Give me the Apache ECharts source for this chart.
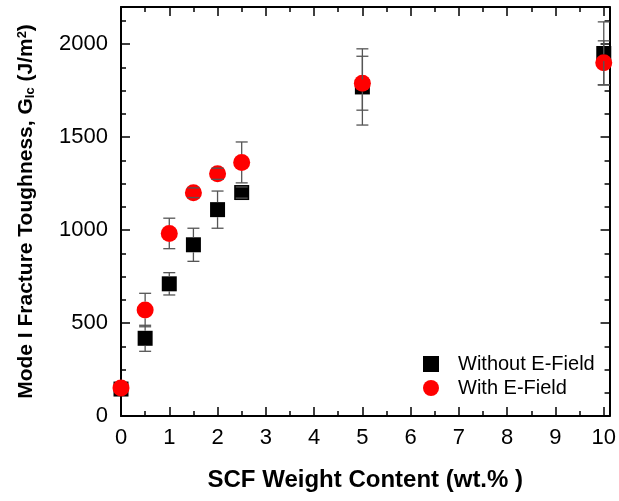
<!DOCTYPE html>
<html>
<head>
<meta charset="utf-8">
<script src="https://cdn.jsdelivr.net/npm/echarts@6/dist/echarts.min.js"></script>
<style>
  html, body { margin: 0; padding: 0; background: #fff; }
  #chart { width: 619px; height: 501px; }
</style>
</head>
<body>
<div id="chart"></div>
<script>
// SCF content (wt.%)
var xValues = [0, 0.5, 1, 1.5, 2, 2.5, 5, 10];
// G_Ic values
var withoutField = [145, 418, 711, 921, 1110, 1202, 1770, 1950];
var withoutFieldErr = [0, 70, 60, 89, 100, 30, 205, 170];
var withField = [150, 570, 982, 1201, 1303, 1364, 1790, 1900];
var withFieldErr = [0, 90, 82, 26, 30, 110, 145, 118];
var xTicks = [0, 1, 2, 3, 4, 5, 6, 7, 8, 9, 10];
var yTicks = [0, 500, 1000, 1500, 2000];

var FONT = '"Liberation Sans", Arial, sans-serif';

function pairs(xs, ys) {
  return xs.map(function (x, i) { return [x, ys[i]]; });
}

// vertical error bars, drawn from the symbol edge outward, caps always drawn
function errorBars(name, ys, errs, half) {
  return {
    type: 'custom',
    name: name,
    silent: true,
    z: 5,
    clip: false,
    data: xValues.map(function (x, i) { return [x, ys[i], errs[i]]; }),
    encode: { x: 0, y: 1 },
    renderItem: function (params, api) {
      var e = api.value(2);
      if (!e) return;
      var x = api.value(0), y = api.value(1);
      var c = api.coord([x, y]);
      var hi = api.coord([x, y + e]);
      var lo = api.coord([x, y - e]);
      var w = 6;
      var style = { stroke: '#555', lineWidth: 1.3 };
      var kids = [
        { type: 'line', shape: { x1: c[0] - w, y1: hi[1], x2: c[0] + w, y2: hi[1] }, style: style },
        { type: 'line', shape: { x1: c[0] - w, y1: lo[1], x2: c[0] + w, y2: lo[1] }, style: style }
      ];
      if (hi[1] < c[1] - half) {
        kids.push({ type: 'line', shape: { x1: c[0], y1: hi[1], x2: c[0], y2: c[1] - half }, style: style });
      }
      if (lo[1] > c[1] + half) {
        kids.push({ type: 'line', shape: { x1: c[0], y1: c[1] + half, x2: c[0], y2: lo[1] }, style: style });
      }
      return { type: 'group', children: kids };
    }
  };
}

var tickStyle = { show: true, inside: true, length: 9, lineStyle: { color: '#000', width: 1.5 } };
var minorStyle = { show: true, length: 5, lineStyle: { color: '#000', width: 1.5 } };
var lineStyle = { show: true, onZero: false, lineStyle: { color: '#000', width: 2 } };

var myChart = echarts.init(document.getElementById('chart'), null, { renderer: 'canvas' });
myChart.setOption({
  animation: false,
  textStyle: { fontFamily: FONT },
  grid: { left: 121, right: 9, top: 7, bottom: 85, containLabel: false },
  legend: {
    data: ['Without E-Field', 'With E-Field'],
    orient: 'vertical',
    left: 418,
    top: 349,
    itemWidth: 16,
    itemHeight: 16,
    itemGap: 4,
    selectedMode: false,
    textStyle: { fontSize: 20, color: '#000', fontFamily: FONT, padding: [0, 0, 0, 14] }
  },
  xAxis: [
    {
      type: 'value',
      min: 0,
      max: 10.12,
      interval: 1,
      name: 'SCF Weight Content (wt.% )',
      nameLocation: 'middle',
      nameGap: 52,
      nameTextStyle: { fontSize: 24, fontWeight: 'bold', color: '#000', fontFamily: FONT },
      axisLine: lineStyle,
      axisTick: tickStyle,
      minorTick: Object.assign({ splitNumber: 2 }, minorStyle),
      splitLine: { show: false },
      axisLabel: {
        fontSize: 22, color: '#000', margin: 11, fontFamily: FONT,
        formatter: function (v) { return xTicks.indexOf(v) >= 0 ? String(v) : ''; }
      }
    },
    {
      type: 'value',
      position: 'top',
      min: 0,
      max: 10.12,
      interval: 1,
      axisLine: lineStyle,
      axisTick: tickStyle,
      minorTick: Object.assign({ splitNumber: 2 }, minorStyle),
      splitLine: { show: false },
      axisLabel: { show: false }
    }
  ],
  yAxis: [
    {
      type: 'value',
      min: 0,
      max: 2200,
      interval: 500,
      name: 'Mode I Fracture Toughness, G{sub|Ic} (J/m{sup|2})',
      nameLocation: 'middle',
      nameGap: 84,
      nameRotate: 90,
      nameTextStyle: {
        fontSize: 21, fontWeight: 'bold', color: '#000', fontFamily: FONT,
        rich: {
          sub: { fontSize: 13, fontWeight: 'bold', color: '#000', fontFamily: FONT, verticalAlign: 'bottom', lineHeight: 13, padding: [9, 0, 0, 0] },
          sup: { fontSize: 13, fontWeight: 'bold', color: '#000', fontFamily: FONT, verticalAlign: 'top', lineHeight: 13, padding: [0, 0, 9, 0] }
        }
      },
      axisLine: lineStyle,
      axisTick: tickStyle,
      minorTick: Object.assign({ splitNumber: 4 }, minorStyle),
      splitLine: { show: false },
      axisLabel: {
        fontSize: 22, color: '#000', margin: 13, fontFamily: FONT,
        formatter: function (v) { return yTicks.indexOf(v) >= 0 ? String(v) : ''; }
      }
    },
    {
      type: 'value',
      position: 'right',
      min: 0,
      max: 2200,
      interval: 500,
      axisLine: lineStyle,
      axisTick: tickStyle,
      minorTick: Object.assign({ splitNumber: 4 }, minorStyle),
      splitLine: { show: false },
      axisLabel: { show: false }
    }
  ],
  series: [
    {
      name: 'Without E-Field',
      type: 'scatter',
      symbol: 'rect',
      symbolSize: 15,
      clip: false,
      itemStyle: { color: '#000', opacity: 1 },
      data: pairs(xValues, withoutField),
      z: 2
    },
    {
      name: 'With E-Field',
      type: 'scatter',
      symbol: 'circle',
      symbolSize: 17,
      clip: false,
      itemStyle: { color: '#ff0000', opacity: 1 },
      data: pairs(xValues, withField),
      z: 3
    },
    errorBars('err-without', withoutField, withoutFieldErr, 7.5),
    errorBars('err-with', withField, withFieldErr, 8.5)
  ]
});
</script>
</body>
</html>
